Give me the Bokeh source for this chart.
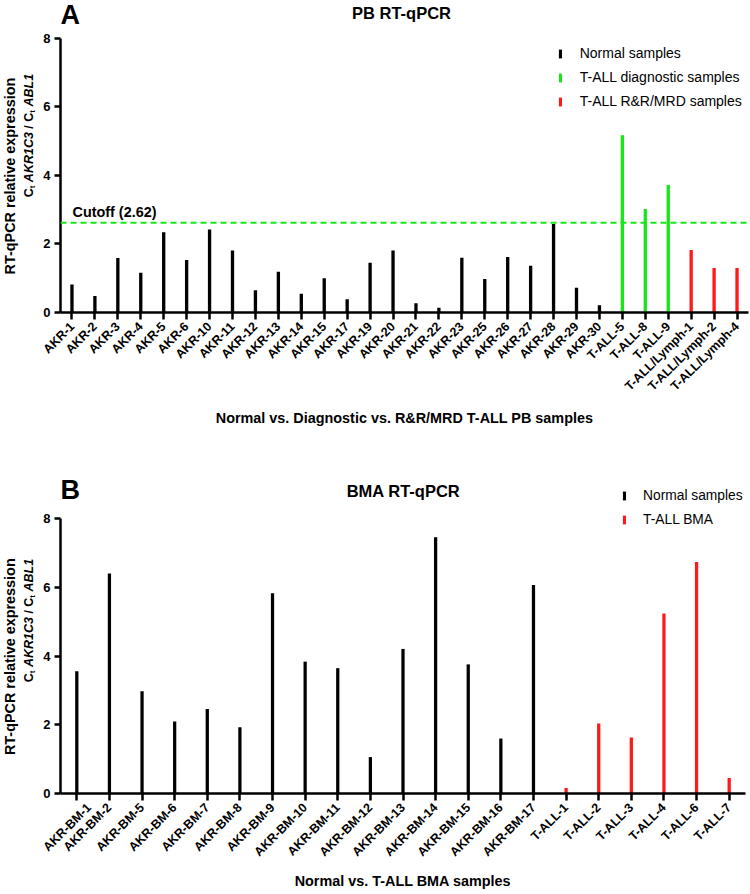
import math
from bokeh.plotting import figure
from bokeh.models import (FactorRange, Range1d, FixedTicker, Span, Label, Legend, LegendItem)
from bokeh.layouts import column, row
from bokeh.embed import file_html
from bokeh.resources import INLINE

# ---------------- data ----------------
pb_normal_labels = ["AKR-1", "AKR-2", "AKR-3", "AKR-4", "AKR-5", "AKR-6", "AKR-10", "AKR-11",
                    "AKR-12", "AKR-13", "AKR-14", "AKR-15", "AKR-17", "AKR-19", "AKR-20",
                    "AKR-21", "AKR-22", "AKR-23", "AKR-25", "AKR-26", "AKR-27", "AKR-28",
                    "AKR-29", "AKR-30"]
pb_normal_values = [0.82, 0.48, 1.59, 1.16, 2.34, 1.53, 2.42, 1.81, 0.65, 1.19, 0.55, 1.00,
                    0.39, 1.45, 1.81, 0.27, 0.14, 1.60, 0.98, 1.62, 1.36, 2.58, 0.72, 0.21]
pb_diag_labels = ["T-ALL-5", "T-ALL-8", "T-ALL-9"]
pb_diag_values = [5.17, 3.02, 3.72]
pb_rr_labels = ["T-ALL/Lymph-1", "T-ALL/Lymph-2", "T-ALL/Lymph-4"]
pb_rr_values = [1.82, 1.30, 1.30]
pb_cutoff = 2.62

bma_normal_labels = ["AKR-BM-1", "AKR-BM-2", "AKR-BM-5", "AKR-BM-6", "AKR-BM-7", "AKR-BM-8",
                     "AKR-BM-9", "AKR-BM-10", "AKR-BM-11", "AKR-BM-12", "AKR-BM-13",
                     "AKR-BM-14", "AKR-BM-15", "AKR-BM-16", "AKR-BM-17"]
bma_normal_values = [3.56, 6.41, 2.98, 2.10, 2.46, 1.93, 5.83, 3.84, 3.65, 1.06, 4.21, 7.46,
                     3.76, 1.60, 6.07]
bma_tall_labels = ["T-ALL-1", "T-ALL-2", "T-ALL-3", "T-ALL-4", "T-ALL-6", "T-ALL-7"]
bma_tall_values = [0.16, 2.04, 1.63, 5.24, 6.74, 0.45]

y_ticks = [0, 2, 4, 6, 8]
y_max = 8

FONT = "Liberation Sans"
BLACK = "#000000"
GREEN = "#19e619"
RED = "#ff1a1a"

LEFT_W = 40


def style_axes(p, xlabel, xstandoff):
    for ax in p.xaxis:
        ax.axis_line_width = 2.5
        ax.axis_line_color = BLACK
        ax.major_tick_line_width = 2.5
        ax.major_tick_line_color = BLACK
        ax.major_tick_out = 7
        ax.major_tick_in = 0
        ax.minor_tick_line_color = None
        ax.major_label_orientation = math.pi / 4
        ax.major_label_text_font = FONT
        ax.major_label_text_font_style = "bold"
        ax.major_label_text_font_size = "12.5px"
        ax.major_label_text_color = BLACK
        ax.major_label_standoff = 5
        ax.axis_label = xlabel
        ax.axis_label_text_font = FONT
        ax.axis_label_text_font_style = "bold"
        ax.axis_label_text_font_size = "14.4px"
        ax.axis_label_text_color = BLACK
        ax.axis_label_standoff = xstandoff
    for ax in p.yaxis:
        ax.ticker = FixedTicker(ticks=y_ticks)
        ax.bounds = (0, y_max)
        ax.axis_line_width = 2.5
        ax.axis_line_color = BLACK
        ax.major_tick_line_width = 2.5
        ax.major_tick_line_color = BLACK
        ax.major_tick_out = 6
        ax.major_tick_in = 0
        ax.minor_tick_line_color = None
        ax.major_label_text_font = FONT
        ax.major_label_text_font_style = "bold"
        ax.major_label_text_font_size = "13px"
        ax.major_label_text_color = BLACK
        ax.major_label_standoff = 4
    p.xgrid.visible = False
    p.ygrid.visible = False
    p.outline_line_color = None
    p.background_fill_color = "white"


def ylabel_fig(height, y_top, border_bottom, y_line1_start, y_line2_start):
    """Narrow figure (same vertical scale as its panel) holding the two-line y-axis title."""
    f = figure(width=LEFT_W, height=height, x_range=Range1d(0, LEFT_W),
               y_range=Range1d(0, y_top), x_axis_location=None, y_axis_location=None,
               output_backend="svg", toolbar_location=None,
               min_border_left=0, min_border_right=0, min_border_top=0,
               min_border_bottom=border_bottom)
    f.xgrid.visible = False
    f.ygrid.visible = False
    f.outline_line_color = None
    f.add_layout(Label(x=9.5, y=y_line1_start, text="RT-qPCR relative expression",
                       angle=math.pi / 2, text_align="left", text_baseline="middle",
                       text_font=FONT, text_font_style="bold", text_font_size="14.4px",
                       text_color=BLACK))
    s = 12.5
    sp = 0.278 * s
    pieces = []
    off = 0.0
    pieces.append(("C", off, "bold", s, 0)); off += 0.722 * s
    pieces.append(("t", off, "bold", 8, 3)); off += 0.333 * 8 + sp
    pieces.append(("AKR1C3", off, "bold italic", s, 0)); off += 4.0 * s + sp
    pieces.append(("/", off, "bold", s, 0)); off += 0.278 * s + sp
    pieces.append(("C", off, "bold", s, 0)); off += 0.722 * s
    pieces.append(("t", off, "bold", 8, 3)); off += 0.333 * 8 + sp
    pieces.append(("ABL1", off, "bold italic", s, 0))
    for txt, o, style, size, dx in pieces:
        f.add_layout(Label(x=28.5 + dx, y=y_line2_start, y_offset=o, text=txt,
                           angle=math.pi / 2, text_align="left", text_baseline="middle",
                           text_font=FONT, text_font_style=style,
                           text_font_size=f"{size}px", text_color=BLACK))
    return f


# ---------------- Panel A ----------------
HA = 440
frameA_h = 312
y8A = 37.7
topA = y_max * frameA_h / (frameA_h - y8A)
pb_factors = pb_normal_labels + pb_diag_labels + pb_rr_labels
pA = figure(width=750 - LEFT_W, height=HA, x_range=FactorRange(*pb_factors, range_padding=0),
            y_range=Range1d(0, topA), output_backend="svg", toolbar_location=None,
            min_border_left=18, min_border_right=2, min_border_top=0,
            min_border_bottom=HA - frameA_h)
wA = 0.145
rA1 = pA.vbar(x=pb_normal_labels, top=pb_normal_values, width=wA, color=BLACK, line_color=None)
rA2 = pA.vbar(x=pb_diag_labels, top=pb_diag_values, width=wA, color=GREEN, line_color=None)
rA3 = pA.vbar(x=pb_rr_labels, top=pb_rr_values, width=wA, color=RED, line_color=None)
pA.add_layout(Span(location=pb_cutoff, dimension="width", line_color=GREEN,
                   line_dash="6 4", line_width=2))
pA.add_layout(Label(x=0, y=pb_cutoff, x_offset=12, y_offset=10.5, text=f"Cutoff ({pb_cutoff})",
                    text_align="left", text_baseline="middle", text_font=FONT,
                    text_font_style="bold", text_font_size="14.4px", text_color=BLACK))
style_axes(pA, "Normal vs. Diagnostic vs. R&R/MRD T-ALL PB samples", 9)
pA.add_layout(Label(x=len(pb_factors) / 2, y=y_max, x_offset=-3, y_offset=25.7,
                    text="PB RT-qPCR", text_align="center", text_baseline="middle",
                    text_font=FONT, text_font_style="bold", text_font_size="16.5px",
                    text_color=BLACK))
pA.add_layout(Label(x=0, y=y_max, x_offset=0, y_offset=23.5, text="A",
                    text_align="left", text_baseline="middle", text_font=FONT,
                    text_font_style="bold", text_font_size="27px", text_color=BLACK))
legA = Legend(items=[LegendItem(label="Normal samples", renderers=[rA1]),
                     LegendItem(label="T-ALL diagnostic samples", renderers=[rA2]),
                     LegendItem(label="T-ALL R&R/MRD samples", renderers=[rA3])],
              location=(497.7, 201), glyph_width=4, glyph_height=11, label_height=20,
              spacing=4, padding=0, margin=0, label_standoff=18,
              label_text_font=FONT, label_text_font_size="14px", label_text_color=BLACK,
              background_fill_alpha=0, border_line_color=None)
pA.add_layout(legA)
ylA = ylabel_fig(HA, topA, HA - frameA_h, 1.11, 3.36)

# ---------------- Panel B ----------------
HB = 452
frameB_h = 353
y8B = 78.3
topB = y_max * frameB_h / (frameB_h - y8B)
bma_factors = bma_normal_labels + bma_tall_labels
pB = figure(width=750 - LEFT_W, height=HB, x_range=FactorRange(*bma_factors, range_padding=0),
            y_range=Range1d(0, topB), output_backend="svg", toolbar_location=None,
            min_border_left=18, min_border_right=5, min_border_top=0,
            min_border_bottom=HB - frameB_h)
wB = 0.10
rB1 = pB.vbar(x=bma_normal_labels, top=bma_normal_values, width=wB, color=BLACK, line_color=None)
rB2 = pB.vbar(x=bma_tall_labels, top=bma_tall_values, width=wB, color=RED, line_color=None)
style_axes(pB, "Normal vs. T-ALL BMA samples", 6)
pB.add_layout(Label(x=len(bma_factors) / 2, y=y_max, x_offset=0.5, y_offset=28.3,
                    text="BMA RT-qPCR", text_align="center", text_baseline="middle",
                    text_font=FONT, text_font_style="bold", text_font_size="16.5px",
                    text_color=BLACK))
pB.add_layout(Label(x=0, y=y_max, x_offset=0, y_offset=29.3, text="B",
                    text_align="left", text_baseline="middle", text_font=FONT,
                    text_font_style="bold", text_font_size="27px", text_color=BLACK))
legB = Legend(items=[LegendItem(label="Normal samples", renderers=[rB1]),
                     LegendItem(label="T-ALL BMA", renderers=[rB2])],
              location=(562, 264), glyph_width=4, glyph_height=11, label_height=20,
              spacing=4, padding=0, margin=0, label_standoff=17,
              label_text_font=FONT, label_text_font_size="13.8px", label_text_color=BLACK,
              background_fill_alpha=0, border_line_color=None)
pB.add_layout(legB)
ylB = ylabel_fig(HB, topB, HB - frameB_h, 1.12, 3.24)

layout = column(row(ylA, pA, spacing=0), row(ylB, pB, spacing=0), spacing=0)
open("out.html", "w").write(file_html(layout, INLINE))
